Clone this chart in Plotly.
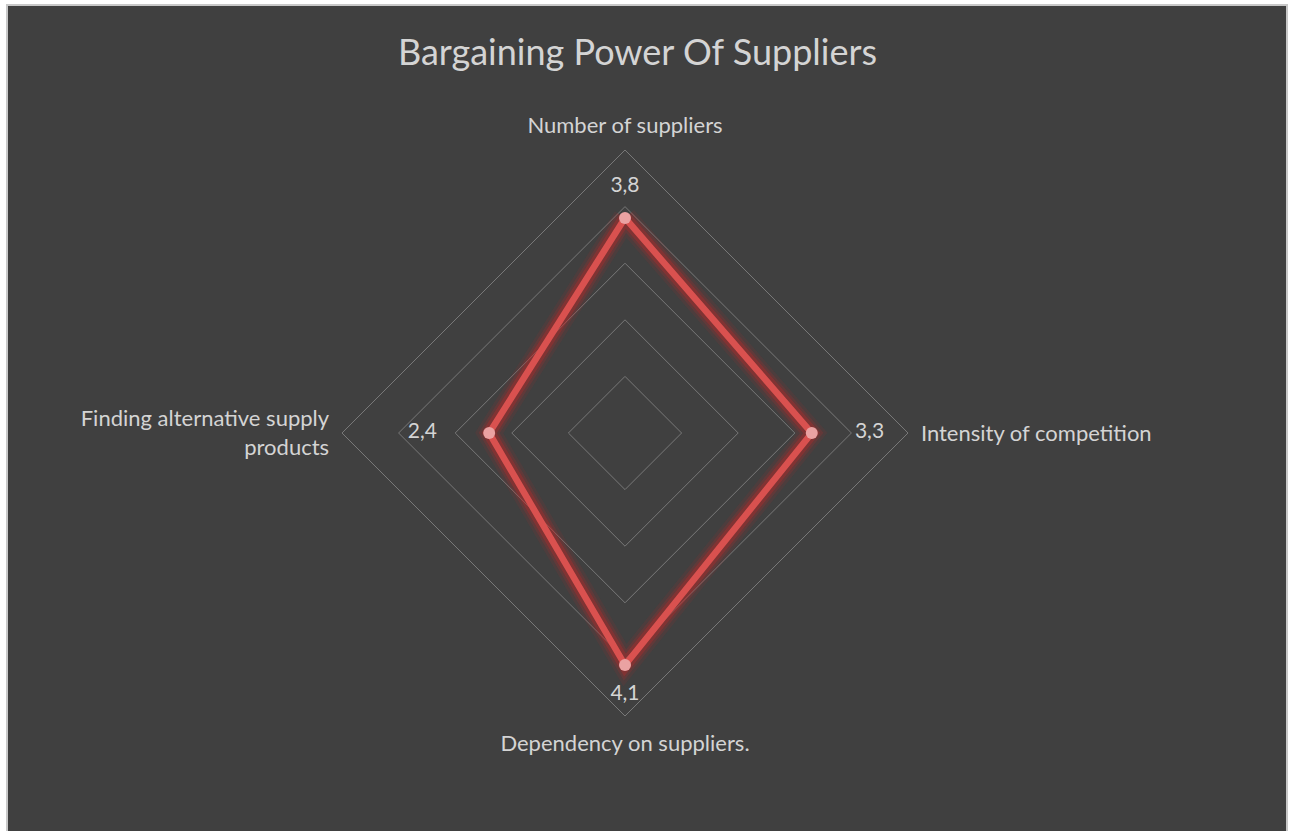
import plotly.graph_objects as go

# Supplier bargaining-power factors and their scores (1-5 scale)
categories = ["Number of suppliers", "Intensity of competition",
              "Dependency on suppliers.", "Finding alternative supply<br>products"]
scores = [3.8, 3.3, 4.1, 2.4]
score_labels = ["3,8", "3,3", "4,1", "2,4"]
# radial offset of each value label beyond its point
label_offsets = [0.55, 1.02, 0.52, 1.18]
radial_ticks = [1, 2, 3, 4, 5]

W, H = 1293, 831
cx, cy, R = 625, 433, 283

BG = "#404040"
GRID = "#787878"
TEXT = "#d4d4d4"
LINE = "#d9514f"
MARKER = "#eaa2a2"
FONT = "Lato, 'Open Sans', sans-serif"

theta = categories + [categories[0]]
r_closed = scores + [scores[0]]

fig = go.Figure()

# soft glow beneath the series line
for width, alpha in [(24, 0.10), (18, 0.17), (13, 0.30)]:
    fig.add_trace(go.Scatterpolar(
        r=r_closed, theta=theta, mode="lines",
        line=dict(color=f"rgba(200,40,40,{alpha})", width=width),
        hoverinfo="skip", showlegend=False))

fig.add_trace(go.Scatterpolar(
    r=r_closed, theta=theta, mode="lines",
    line=dict(color=LINE, width=6.5),
    showlegend=False))

fig.add_trace(go.Scatterpolar(
    r=scores, theta=categories, mode="markers",
    marker=dict(color=MARKER, size=12, line=dict(width=0)),
    showlegend=False))

# value labels
fig.add_trace(go.Scatterpolar(
    r=[s + o for s, o in zip(scores, label_offsets)], theta=categories,
    mode="text", text=score_labels, textposition="middle center",
    textfont=dict(family=FONT, size=21, color=TEXT),
    hoverinfo="skip", showlegend=False))

fig.update_layout(
    width=W, height=H,
    margin=dict(l=0, r=0, t=0, b=0),
    paper_bgcolor="white",
    plot_bgcolor=BG,
    showlegend=False,
    title=dict(text="Bargaining Power Of Suppliers",
               x=637.5 / W, xanchor="center", y=1 - 52 / H, yanchor="middle",
               font=dict(family=FONT, size=36, color=TEXT)),
    polar=dict(
        bgcolor=BG,
        gridshape="linear",
        domain=dict(x=[(cx - R) / W, (cx + R) / W],
                    y=[(H - cy - R) / H, (H - cy + R) / H]),
        radialaxis=dict(range=[0, 5], tickvals=radial_ticks, showticklabels=False,
                        ticks="", showline=False, gridcolor=GRID, gridwidth=1),
        angularaxis=dict(direction="clockwise", rotation=90,
                         categoryorder="array", categoryarray=categories,
                         showgrid=False, showline=True, linecolor=GRID, linewidth=1,
                         ticks="outside", ticklen=8, tickcolor=BG,
                         tickfont=dict(family=FONT, size=22, color=TEXT)),
    ),
    shapes=[dict(type="rect", xref="paper", yref="paper", layer="below",
                 x0=7 / W, x1=1287 / W, y0=-0.02, y1=1 - 5 / H,
                 fillcolor=BG, line=dict(color="#c8c8c8", width=2))],
)

fig.write_html("out.html")
